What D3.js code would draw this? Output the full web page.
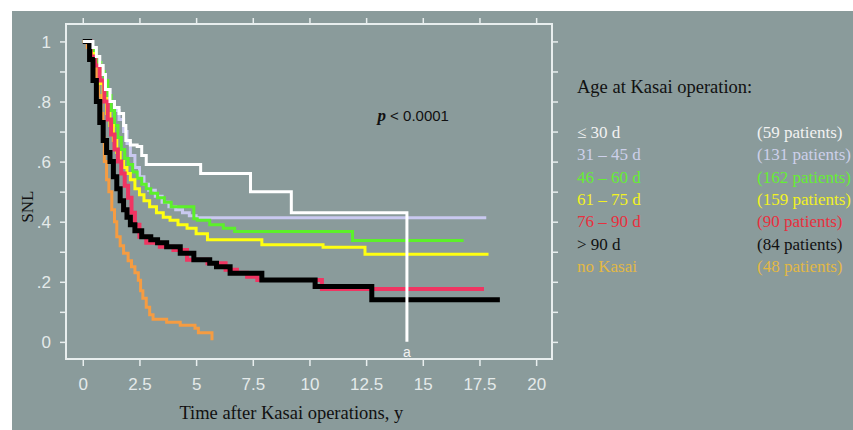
<!DOCTYPE html>
<html>
<head>
<meta charset="utf-8">
<script src="https://cdn.jsdelivr.net/npm/d3@7"></script>
<style>
  body { margin: 0; background: #fff; }
  svg { display: block; }
  .axis text { font-family: "Liberation Sans", Arial, sans-serif; font-size: 17px; fill: #e4eaea; }
  .axis line { stroke: #e8eeee; stroke-width: 1.5; }
  .axis path { display: none; }
  .serif { font-family: "Liberation Serif", "Times New Roman", serif; }
</style>
</head>
<body>
<div class="km-chart"></div>
<script>
// survival curves: step times (years) and SNL after each step
const groups = ["≤ 30 d", "31 – 45 d", "46 – 60 d", "61 – 75 d", "76 – 90 d", "> 90 d", "no Kasai"];
const patients = [59, 131, 162, 159, 90, 84, 48];

const tWhite = [0, 0.25, 0.45, 0.6, 0.75, 0.9, 1.0, 1.2, 1.4, 1.6, 1.8, 1.9, 2.1, 2.4, 2.6, 2.8, 5.2, 7.4, 9.2, 14.3];
const sWhite = [1, 1, 0.98, 0.95, 0.92, 0.89, 0.84, 0.80, 0.78, 0.76, 0.72, 0.67, 0.655, 0.65, 0.62, 0.59, 0.56, 0.50, 0.43, 0.0];

const tLav = [0, 0.4, 0.6, 0.8, 1.0, 1.2, 1.4, 1.6, 1.8, 1.95, 2.1, 2.3, 2.5, 2.7, 2.9, 3.2, 3.5, 3.8, 4.1, 4.4, 4.7, 5.0, 17.8];
const sLav = [1, 0.97, 0.93, 0.89, 0.84, 0.80, 0.77, 0.74, 0.70, 0.66, 0.62, 0.58, 0.55, 0.525, 0.505, 0.485, 0.465, 0.45, 0.44, 0.43, 0.42, 0.413, 0.413];

const tGreen = [0, 0.4, 0.6, 0.8, 0.95, 1.1, 1.25, 1.4, 1.55, 1.7, 1.85, 2.0, 2.2, 2.4, 2.6, 2.8, 3.0, 3.3, 3.6, 3.9, 4.9, 5.05, 5.6, 6.2, 6.7, 11.9, 16.8];
const sGreen = [1, 0.97, 0.93, 0.90, 0.87, 0.82, 0.77, 0.72, 0.68, 0.64, 0.61, 0.59, 0.565, 0.545, 0.525, 0.51, 0.495, 0.48, 0.465, 0.45, 0.41, 0.405, 0.39, 0.378, 0.367, 0.337, 0.337];

const tYellow = [0, 0.35, 0.55, 0.75, 0.9, 1.05, 1.2, 1.35, 1.5, 1.65, 1.8, 1.95, 2.1, 2.3, 2.5, 2.7, 2.95, 3.25, 3.55, 3.85, 4.2, 4.6, 5.0, 5.5, 7.9, 10.6, 12.45, 17.9];
const sYellow = [1, 0.96, 0.92, 0.86, 0.81, 0.76, 0.72, 0.67, 0.63, 0.60, 0.58, 0.56, 0.54, 0.51, 0.49, 0.47, 0.45, 0.43, 0.415, 0.405, 0.39, 0.378, 0.36, 0.34, 0.323, 0.315, 0.292, 0.292];

const tRed = [0, 0.35, 0.55, 0.75, 0.95, 1.1, 1.25, 1.4, 1.55, 1.7, 1.85, 2.0, 2.15, 2.3, 2.5, 2.8, 3.4, 4.0, 4.6, 5.5, 6.3, 6.8, 7.25, 7.7, 10.55, 17.7];
const sRed = [1, 0.95, 0.92, 0.87, 0.80, 0.74, 0.69, 0.64, 0.60, 0.56, 0.52, 0.48, 0.43, 0.39, 0.35, 0.33, 0.317, 0.306, 0.273, 0.262, 0.24, 0.23, 0.217, 0.206, 0.176, 0.176];

const tBlack = [0, 0.3, 0.45, 0.6, 0.75, 0.9, 1.05, 1.2, 1.35, 1.5, 1.65, 1.8, 1.95, 2.1, 2.3, 2.6, 3.0, 3.3, 3.7, 4.3, 4.9, 5.6, 5.9, 6.5, 7.9, 10.25, 12.75, 18.4];
const sBlack = [1, 0.94, 0.87, 0.80, 0.73, 0.67, 0.63, 0.60, 0.55, 0.51, 0.47, 0.44, 0.415, 0.39, 0.37, 0.35, 0.34, 0.33, 0.317, 0.295, 0.273, 0.262, 0.25, 0.228, 0.206, 0.184, 0.14, 0.14];

const tOrange = [0, 0.2, 0.35, 0.5, 0.6, 0.7, 0.8, 0.88, 0.95, 1.05, 1.15, 1.28, 1.4, 1.5, 1.65, 1.8, 2.0, 2.15, 2.3, 2.45, 2.55, 2.65, 2.8, 2.95, 3.1, 3.7, 4.3, 4.95, 5.1, 5.7];
const sOrange = [1, 0.98, 0.96, 0.92, 0.875, 0.82, 0.76, 0.68, 0.60, 0.54, 0.50, 0.44, 0.40, 0.35, 0.32, 0.295, 0.27, 0.25, 0.23, 0.205, 0.17, 0.145, 0.115, 0.09, 0.075, 0.065, 0.055, 0.045, 0.03, 0.005];

const xTicks = [0, 2.5, 5, 7.5, 10, 12.5, 15, 17.5, 20];
const xTickLabels = ["0", "2.5", "5", "7.5", "10", "12.5", "15", "17.5", "20"];
const yTicks = [0, 0.1, 0.2, 0.3, 0.4, 0.5, 0.6, 0.7, 0.8, 0.9, 1];
const yTickLabels = ["0", "", ".2", "", ".4", "", ".6", "", ".8", "", "1"];

//line and legend colours
const lineColors = ["#ffffff", "#c9c9f0", "#5cf02a", "#ffff10", "#f03562", "#000000", "#f59c42"];
const textColors = ["#f2f2f2", "#cdd0ea", "#66ee33", "#f2f222", "#e8303e", "#111111", "#e2b844"];
const lineWidths = [3, 3, 3, 3, 4, 5, 3];

function setupCanvas() {
    const svg_width = 853;
    const svg_height = 430;
    const margin = { top: 24, right: 301, bottom: 71, left: 66 };
    const width = svg_width - margin.left - margin.right;
    const height = svg_height - margin.top - margin.bottom;

    const svg = d3.select('.km-chart').append('svg')
        .attr('width', svg_width).attr('height', svg_height);

    //grey slide background
    svg.append('rect').attr('x', 12).attr('y', 11)
        .attr('width', svg_width - 12).attr('height', svg_height - 11)
        .attr('fill', '#8a9b9b');

    const g = svg.append('g').attr('transform', `translate(${margin.left},${margin.top})`);

    const X_scale = d3.scaleLinear([-0.74, 20.7], [0, width]);
    const Y_scale = d3.scaleLinear([-0.057, 1.058], [height, 0]);

    //axes on four sides, ticks pointing outwards
    g.append('g').attr('class', 'axis').attr('transform', `translate(0,${height})`)
        .call(d3.axisBottom(X_scale).tickValues(xTicks).tickSize(7).tickPadding(12)
            .tickFormat((d, i) => xTickLabels[i]));
    g.append('g').attr('class', 'axis')
        .call(d3.axisTop(X_scale).tickValues(xTicks).tickSize(6).tickFormat(''));
    g.append('g').attr('class', 'axis')
        .call(d3.axisLeft(Y_scale).tickValues(yTicks).tickSize(6).tickPadding(9)
            .tickFormat((d, i) => yTickLabels[i]));
    g.append('g').attr('class', 'axis').attr('transform', `translate(${width},0)`)
        .call(d3.axisRight(Y_scale).tickValues(yTicks).tickSize(6).tickFormat(''));
    g.selectAll('.axis text').attr('dy', '0.36em');
    g.selectAll('.axis').filter((d, i) => i === 0).selectAll('text').attr('dy', '0.71em');

    //frame
    g.append('rect').attr('width', width).attr('height', height)
        .attr('fill', 'none').attr('stroke', '#e8eeee').attr('stroke-width', 2);

    //curves
    const series = [
        d3.zip(tWhite, sWhite), d3.zip(tLav, sLav), d3.zip(tGreen, sGreen),
        d3.zip(tYellow, sYellow), d3.zip(tRed, sRed), d3.zip(tBlack, sBlack),
        d3.zip(tOrange, sOrange)
    ];
    const line = d3.line().x(d => X_scale(d[0])).y(d => Y_scale(d[1])).curve(d3.curveStepAfter);
    const drawOrder = [6, 1, 2, 3, 4, 5, 0];
    g.append('g').attr('class', 'curves').selectAll('path')
        .data(drawOrder).join('path')
        .attr('d', i => line(series[i]))
        .attr('fill', 'none')
        .attr('stroke', i => lineColors[i])
        .attr('stroke-width', i => lineWidths[i])
        .attr('stroke-linejoin', 'miter');

    //annotations
    const pText = g.append('text').attr('x', X_scale(13.0)).attr('y', Y_scale(0.735))
        .style('font-size', '15px').attr('fill', '#111');
    pText.append('tspan').text('p').attr('class', 'serif')
        .style('font-style', 'italic').style('font-weight', 'bold').style('font-size', '17px');
    pText.append('tspan').text(' < 0.0001').style('font-family', '"Liberation Sans", Arial, sans-serif');

    g.append('text').text('a').attr('x', X_scale(14.3)).attr('y', Y_scale(-0.05))
        .attr('text-anchor', 'middle').attr('fill', '#f2f2f2')
        .style('font-family', '"Liberation Sans", Arial, sans-serif').style('font-size', '14px');

    //axis titles
    svg.append('text').attr('class', 'serif').text('Time after Kasai operations, y')
        .attr('x', margin.left + X_scale(9.2)).attr('y', 419).attr('text-anchor', 'middle')
        .style('font-size', '18.5px').attr('fill', '#111');
    svg.append('text').attr('class', 'serif').text('SNL')
        .attr('transform', `translate(33,${margin.top + Y_scale(0.45)}) rotate(-90)`)
        .attr('text-anchor', 'middle').style('font-size', '17px').attr('fill', '#111');

    //legend
    const legend = svg.append('g').attr('class', 'legend serif').style('font-size', '17px');
    legend.append('text').text('Age at Kasai operation:').attr('x', 577).attr('y', 93)
        .attr('fill', '#111').style('font-size', '18.5px');
    const rows = legend.selectAll('.row').data(groups).join('g').attr('class', 'row')
        .attr('transform', (d, i) => `translate(0,${138 + i * 22.3})`);
    rows.append('text').attr('x', 577).text(d => d)
        .attr('fill', (d, i) => textColors[i]);
    rows.append('text').attr('x', 757).text((d, i) => `(${patients[i]} patients)`)
        .attr('fill', (d, i) => textColors[i]);
}

setupCanvas();
</script>
</body>
</html>
